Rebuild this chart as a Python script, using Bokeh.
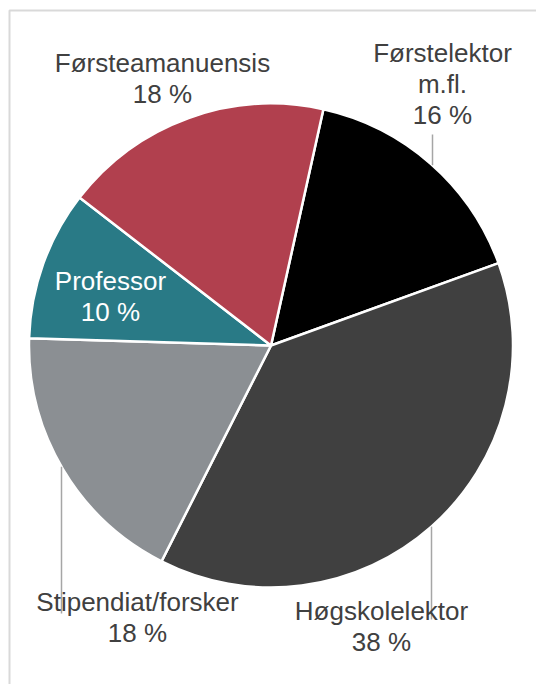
import math
from bokeh.plotting import figure
from bokeh.models import Range1d, ColumnDataSource
from bokeh.core.properties import value
from bokeh.embed import file_html
from bokeh.resources import INLINE

# ---- data ----
categories = ["Førstelektor m.fl.", "Høgskolelektor", "Stipendiat/forsker", "Professor", "Førsteamanuensis"]
display_names = ["Førstelektor\nm.fl.", "Høgskolelektor", "Stipendiat/forsker", "Professor", "Førsteamanuensis"]
shares = [16, 38, 18, 10, 18]

# ---- style ----
colors = ["#000000", "#404040", "#8b8f93", "#297a86", "#b1404e"]
text_colors = ["#404040", "#404040", "#404040", "#ffffff", "#404040"]
FONT = "Liberation Sans"
W, H = 536, 684
PAGE_H = 684
def sy(y):  # screen y -> data y
    return PAGE_H - y

CX, CY, R = 270.5, sy(345), 242
ROT = 12.5  # first slice starts 12.5 deg clockwise from 12 o'clock
TEXT_DY = -7

# label anchors (screen coords: centre x, first baseline y), line step
label_pos = {
    "Førstelektor m.fl.": (442, 59),
    "Høgskolelektor": (381, 617),
    "Stipendiat/forsker": (137, 608),
    "Professor": (110, 287),
    "Førsteamanuensis": (162, 69),
}
LINE_STEP = 31
# leader lines: x, label end (screen y), side of circle
leaders = [(432, 134, "top"), (61, 613, "bottom"), (431, 619, "bottom")]

p = figure(width=W, height=H, output_backend="svg", toolbar_location=None,
           x_range=Range1d(0, W), y_range=Range1d(PAGE_H - H, PAGE_H),
           min_border=0, outline_line_color=None)
p.axis.visible = False
p.grid.visible = False
p.background_fill_color = "white"
p.border_fill_color = "white"

# chart frame (left and top visible)
p.line(x=[9, 9, 700], y=[-50, sy(10), sy(10)], line_color="#d9d9d9", line_width=2)

total = sum(shares)
starts, ends = [], []
cum = 0
for v in shares:
    a0 = ROT + 360 * cum / total
    cum += v
    a1 = ROT + 360 * cum / total
    starts.append(math.radians(90 - a1))
    ends.append(math.radians(90 - a0))

src = ColumnDataSource(dict(cat=categories, start=starts, end=ends, color=colors))
p.wedge(x=CX, y=CY, radius=R, start_angle="start", end_angle="end",
        fill_color="color", line_color="white", line_width=2.5, source=src)

# leader lines
for lx, ly, side in leaders:
    dy = math.sqrt(R * R - (lx - CX) ** 2)
    edge = CY + dy if side == "top" else CY - dy
    p.line(x=[lx, lx], y=[edge, sy(ly)], line_color="#a6a6a6", line_width=1.5)

# labels
tx, ty, tt, tc = [], [], [], []
for cat, name, v, col in zip(categories, display_names, shares, text_colors):
    x0, y0 = label_pos[cat]
    lines = name.split("\n") + [f"{v} %"]
    for i, ln in enumerate(lines):
        tx.append(x0)
        ty.append(sy(y0 + TEXT_DY + i * LINE_STEP))
        tt.append(ln)
        tc.append(col)
p.text(x=tx, y=ty, text=tt, text_color=tc, text_align="center",
       text_baseline="alphabetic", text_font=value(FONT), text_font_size="26px")

open("out.html", "w").write(file_html(p, INLINE))
